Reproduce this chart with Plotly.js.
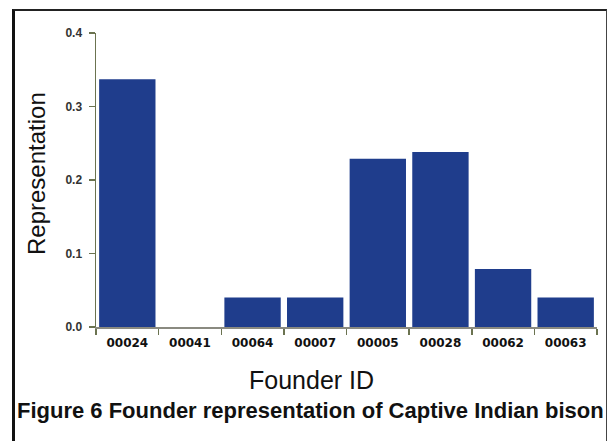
<!DOCTYPE html>
<html>
<head>
<meta charset="utf-8">
<script src="https://cdn.plot.ly/plotly-3.0.1.min.js"></script>
<style>
  html, body { margin: 0; padding: 0; background: #fff; }
  #wrap { position: relative; width: 609px; height: 441px; overflow: hidden; }
  #chart { position: absolute; left: 0; top: 0; width: 609px; height: 441px; }
  #frame { position: absolute; left: 12px; top: 9px; width: 591px; height: 440px;
           border-left: 3px solid #111; border-top: 2px solid #222; border-right: 1px solid #444;
           pointer-events: none; }
</style>
</head>
<body>
<div id="wrap">
  <div id="chart"></div>
  <div id="frame"></div>
</div>
<script>
const founders = ["00024", "00041", "00064", "00007", "00005", "00028", "00062", "00063"];
const representation = [0.337, 0.0, 0.04, 0.04, 0.229, 0.238, 0.079, 0.04];
const yTickVals = [0.0, 0.1, 0.2, 0.3, 0.4];
const yTickText = ["0.0", "0.1", "0.2", "0.3", "0.4"];

const L = 96, R = 12, T = 33, B = 114;
const W = 609, H = 441;
const pw = W - L - R, ph = H - T - B;
const px = (x) => (x - L) / pw;
const py = (y) => (H - B - y) / ph;

const trace = {
  type: "bar",
  x: founders,
  y: representation,
  marker: { color: "#1f3d8c", line: { width: 0 } },
  hoverinfo: "skip"
};

const layout = {
  width: W,
  height: H,
  margin: { l: L, r: R, t: T, b: B },
  paper_bgcolor: "#ffffff",
  plot_bgcolor: "#ffffff",
  showlegend: false,
  bargap: 0.1,
  font: { family: "Liberation Sans, Arial, sans-serif", color: "#222" },
  xaxis: {
    type: "category",
    showline: true,
    linecolor: "#8a8a80",
    linewidth: 1.5,
    ticks: "outside",
    tickson: "boundaries",
    ticklen: 6,
    tickcolor: "#6b7350",
    tickwidth: 1.5,
    ticklabelstandoff: 4,
    showgrid: false,
    zeroline: false,
    tickfont: { family: "DejaVu Sans, sans-serif", size: 12, color: "#111", weight: "bold" }
  },
  yaxis: {
    range: [0, 0.4],
    tickvals: yTickVals,
    ticktext: yTickText,
    showline: true,
    linecolor: "#6b7350",
    linewidth: 1.5,
    ticks: "outside",
    ticklen: 6,
    tickcolor: "#6b7350",
    tickwidth: 1.2,
    ticklabelstandoff: 4,
    showgrid: false,
    zeroline: false,
    tickfont: { family: "Liberation Sans, Arial, sans-serif", size: 12, color: "#333", weight: "bold" }
  },
  annotations: [
    {
      text: "Founder ID",
      xref: "paper", yref: "paper",
      x: px(311), y: py(380),
      xanchor: "center", yanchor: "middle",
      showarrow: false,
      font: { family: "Liberation Sans, Arial, sans-serif", size: 25, color: "#111" }
    },
    {
      text: "Representation",
      xref: "paper", yref: "paper",
      x: px(36), y: py(174),
      xanchor: "center", yanchor: "middle",
      textangle: -90,
      showarrow: false,
      font: { family: "Liberation Sans, Arial, sans-serif", size: 24, color: "#111" }
    },
    {
      text: "<b>Figure 6 Founder representation of Captive Indian bison</b>",
      xref: "paper", yref: "paper",
      x: px(15), y: py(411),
      xanchor: "left", yanchor: "middle",
      showarrow: false,
      font: { family: "Liberation Sans, Arial, sans-serif", size: 22, color: "#111" }
    }
  ]
};

Plotly.newPlot("chart", [trace], layout, { displayModeBar: false, staticPlot: true });
</script>
</body>
</html>
